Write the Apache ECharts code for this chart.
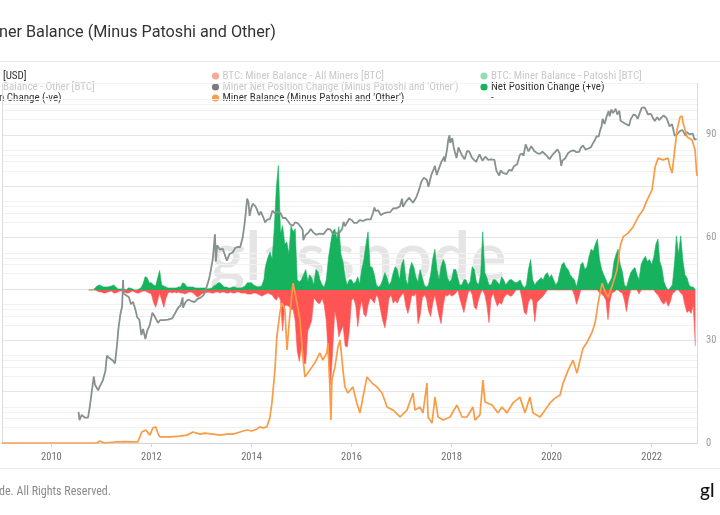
<!DOCTYPE html>
<html><head><meta charset="utf-8">
<script src="https://cdn.jsdelivr.net/npm/echarts@6/dist/echarts.min.js"></script>
<style>html,body{margin:0;padding:0;background:#fff;overflow:hidden}#c{width:720px;height:515px}</style>
</head><body><div id="c"></div>
<script>
// ---------- tick labels ----------
const yearTicks = ['2010-01-01','2012-01-01','2014-01-01','2016-01-01','2018-01-01','2020-01-01','2022-01-01'];
const rightTicks = [0, 30, 60, 90];
const gridMinors = [2, 3, 4, 5];

// ---------- BTC price [USD] (gray, log scale) ----------
const priceDates = ['2010-07-18','2010-07-25','2010-08-10','2010-09-01','2010-09-25','2010-10-08','2010-10-20','2010-11-06','2010-11-15','2010-11-25','2010-12-08','2010-12-20',
'2011-01-10','2011-01-30','2011-02-10','2011-02-25','2011-03-10','2011-03-25','2011-04-10','2011-04-25','2011-05-05','2011-05-20','2011-06-01','2011-06-08','2011-06-12','2011-06-20','2011-07-05','2011-07-20','2011-08-05','2011-08-20','2011-09-05','2011-09-20','2011-10-05','2011-10-20','2011-11-01','2011-11-18','2011-12-01','2011-12-20',
'2012-01-08','2012-01-25','2012-02-18','2012-03-05','2012-04-01','2012-05-01','2012-06-01','2012-06-20','2012-07-15','2012-08-01','2012-08-16','2012-08-19','2012-09-05','2012-09-25','2012-10-20','2012-11-10','2012-12-01','2012-12-25',
'2013-01-15','2013-02-05','2013-02-25','2013-03-10','2013-03-25','2013-04-09','2013-04-16','2013-04-25','2013-05-15','2013-06-05','2013-07-05','2013-07-25','2013-08-15','2013-09-05','2013-09-25','2013-10-10','2013-10-28','2013-11-10','2013-11-20','2013-11-30','2013-12-10','2013-12-18','2013-12-30',
'2014-01-10','2014-01-30','2014-02-10','2014-02-25','2014-03-10','2014-03-28','2014-04-10','2014-04-25','2014-05-15','2014-06-03','2014-06-20','2014-07-10','2014-08-01','2014-08-18','2014-09-05','2014-09-25','2014-10-10','2014-10-30','2014-11-15','2014-12-05','2014-12-30',
'2015-01-10','2015-01-14','2015-02-01','2015-02-20','2015-03-10','2015-03-30','2015-04-20','2015-05-15','2015-06-10','2015-07-10','2015-07-30','2015-08-20','2015-09-10','2015-10-01','2015-10-25','2015-11-04','2015-11-15','2015-12-15',
'2016-01-05','2016-01-20','2016-02-10','2016-03-01','2016-03-25','2016-04-20','2016-05-20','2016-06-05','2016-06-17','2016-06-25','2016-07-15','2016-08-02','2016-08-20','2016-09-15','2016-10-10','2016-11-01','2016-11-25','2016-12-20',
'2017-01-04','2017-01-11','2017-02-01','2017-02-25','2017-03-10','2017-03-25','2017-04-20','2017-05-10','2017-05-25','2017-06-12','2017-07-05','2017-07-16','2017-08-05','2017-08-25','2017-09-01','2017-09-15','2017-10-01','2017-10-20','2017-11-08','2017-11-12','2017-11-28','2017-12-08','2017-12-17','2017-12-22',
'2018-01-06','2018-01-17','2018-01-28','2018-02-06','2018-02-20','2018-03-05','2018-03-18','2018-04-06','2018-04-24','2018-05-10','2018-05-28','2018-06-12','2018-06-29','2018-07-24','2018-08-14','2018-09-04','2018-09-25','2018-10-15','2018-11-10','2018-11-20','2018-11-25','2018-12-15','2018-12-25',
'2019-01-10','2019-02-07','2019-02-24','2019-03-15','2019-04-03','2019-04-25','2019-05-14','2019-05-30','2019-06-10','2019-06-26','2019-07-16','2019-08-06','2019-08-29','2019-09-24','2019-10-10','2019-10-26','2019-11-20','2019-12-17',
'2020-01-08','2020-01-20','2020-02-13','2020-02-28','2020-03-12','2020-03-20','2020-04-10','2020-04-30','2020-05-20','2020-06-10','2020-06-28','2020-07-20','2020-08-02','2020-08-17','2020-09-05','2020-09-25','2020-10-15','2020-10-28','2020-11-10','2020-11-25','2020-12-10','2020-12-20','2020-12-31',
'2021-01-08','2021-01-22','2021-02-08','2021-02-21','2021-02-28','2021-03-13','2021-03-25','2021-04-13','2021-04-25','2021-05-10','2021-05-19','2021-06-01','2021-06-22','2021-07-06','2021-07-20','2021-08-01','2021-08-22','2021-09-07','2021-09-21','2021-10-05','2021-10-20','2021-11-01','2021-11-10','2021-11-25','2021-12-04','2021-12-27',
'2022-01-10','2022-01-24','2022-02-10','2022-02-24','2022-03-29','2022-04-20','2022-05-12','2022-05-30','2022-06-18','2022-07-05','2022-07-30','2022-08-14','2022-09-06','2022-09-12','2022-10-05','2022-10-29','2022-11-09','2022-11-25'];
const priceValues = [0.08,0.055,0.07,0.062,0.062,0.10,0.10,0.39,0.27,0.28,0.21,0.25,
0.32,0.50,1.0,0.90,0.90,0.80,0.70,1.6,3.3,6.5,9.0,29.6,16,17.5,14.5,13.8,10,11,8,5.5,5.0,2.5,3.3,2.1,3.0,3.9,
6.8,5.8,4.3,4.9,4.9,5.0,5.3,6.5,8.6,9.4,13.5,8.5,10.8,12.3,11.4,10.9,12.5,13.4,
14.8,20.5,31,46,78,230,68,140,115,120,70,95,100,125,130,128,195,340,600,1130,950,520,740,
900,800,690,540,630,490,390,440,450,660,590,625,590,470,480,410,360,335,390,375,310,
275,175,225,245,290,245,225,235,230,290,285,230,240,238,290,400,330,460,
430,380,380,430,415,445,445,580,760,650,665,540,580,610,620,730,735,800,
1130,780,980,1180,1190,940,1230,1750,2400,2900,2600,1930,3200,4350,4900,3250,4400,6000,7400,5900,9900,16000,19300,13800,
17100,11100,11800,6950,11200,11500,7900,6600,9600,9300,7200,6500,5900,8200,6200,7400,6400,6600,6400,4500,3900,3200,4000,
3600,3400,4100,3950,4900,5300,8000,8600,7700,12900,9400,11800,9500,8500,8500,9250,8100,6640,
8050,8700,10300,8700,4900,6200,6900,8650,9500,9850,9100,9200,11100,12250,10200,10700,11400,13300,15300,18700,18200,23800,29000,
40500,32000,46400,57500,45200,61200,52300,63500,49000,58000,37000,36700,32500,34000,29800,39900,49300,46800,40700,51500,66000,61300,67500,57100,49400,50700,
41900,36700,43600,38300,47400,41500,28900,31800,19000,20200,23800,24300,18800,22300,20300,20800,15900,16500];

// ---------- Miner Balance (Minus Patoshi and 'Other') (orange, right axis) ----------
const balanceDates = ['2009-01-05','2010-11-29','2010-12-21','2011-01-20','2011-04-09','2011-06-21','2011-09-24','2011-10-23','2011-11-22','2011-12-21',
'2012-01-11','2012-02-02','2012-02-17','2012-03-03','2012-05-15','2012-07-27','2012-09-17','2012-10-31','2012-12-21',
'2013-01-26','2013-03-25','2013-05-15','2013-07-05','2013-08-18','2013-10-09','2013-11-29',
'2014-01-04','2014-02-09','2014-03-03','2014-03-25','2014-04-23','2014-05-01','2014-05-15','2014-05-30','2014-06-21','2014-07-05','2014-07-27','2014-08-11','2014-09-02','2014-09-17','2014-10-09','2014-10-31','2014-11-14','2014-11-29','2014-12-21',
'2015-01-11','2015-01-26','2015-03-03','2015-04-09','2015-05-15','2015-06-06','2015-07-05','2015-07-13','2015-07-27','2015-08-04','2015-08-11','2015-09-02','2015-09-24','2015-10-09','2015-10-31','2015-11-14','2015-12-06',
'2016-01-11','2016-02-09','2016-03-03','2016-03-25','2016-04-23','2016-05-30','2016-07-05','2016-08-11','2016-09-17','2016-10-31','2016-12-21',
'2017-02-09','2017-03-25','2017-04-09','2017-05-15','2017-06-06','2017-07-05','2017-07-13','2017-08-11','2017-09-02','2017-09-24','2017-10-31','2017-12-21',
'2018-02-09','2018-03-18','2018-04-23','2018-06-06','2018-06-21','2018-07-27','2018-08-18','2018-09-02','2018-10-23','2018-12-06',
'2019-01-04','2019-02-09','2019-03-25','2019-05-15','2019-06-21','2019-07-27','2019-08-18','2019-10-09','2019-11-14','2019-12-21',
'2020-01-26','2020-03-03','2020-03-25','2020-05-01','2020-06-06','2020-07-05','2020-07-27','2020-08-18','2020-09-17','2020-10-23','2020-11-14','2020-12-06',
'2021-01-04','2021-01-26','2021-02-17','2021-03-25','2021-04-23','2021-05-15','2021-06-06','2021-07-13','2021-08-18','2021-09-24','2021-10-31','2021-11-29',
'2022-01-04','2022-01-26','2022-02-17','2022-03-25','2022-05-01','2022-05-15','2022-05-30','2022-06-21','2022-07-05','2022-07-27','2022-08-11','2022-08-18','2022-09-17','2022-10-23','2022-11-14','2022-11-24','2022-11-28'];
const balanceValues = [0,0,0.6,0,0.3,0.4,0.3,3.2,3.8,2.3,
4.4,4.7,2.9,1.8,1.8,2.0,2.3,3.2,2.6,
2.9,2.6,2.3,2.6,2.6,3.2,3.8,
3.5,4.1,4.7,4.4,4.7,5.8,7.3,11.7,21.3,31,38,40.9,38.8,27.2,38,46.7,47,40.9,35.9,
25.1,19.3,21.3,23.4,26.3,24.2,26.3,29.2,16.4,6.7,18.4,22.2,28,30.1,21.3,16.4,14.6,
16.4,11.7,8.8,13.4,19.3,17.5,16.4,14.6,10.5,9.6,7.6,
9.6,14.6,9.6,10.5,8.8,17.5,7.6,5.8,13.4,7.6,6.7,7.6,
11.1,7.6,7.6,10.5,6.7,8.2,18.4,12,11.1,8.8,
10.5,8.8,11.7,13.4,8.8,13.4,8.8,7.6,9.6,11.7,
13.1,14,17.5,21.3,24.2,20.4,24.2,27.7,29.5,32.4,35.1,40.9,
46.7,44.1,42.6,46.7,50.5,57.3,60.2,61.3,63.1,66,68.1,71,
73.9,80.6,83.2,82.7,83.2,80.6,78.9,86.5,91.4,95.2,95.5,93.5,89.4,88.5,85.6,79.7,78];

// ---------- Net position change, half-monthly from 2010-10-01 ----------
const halfMonthStart = [2010, 10];
const posChange = [
0,0,0,2,4,5,
4,3,3,3,2,4,5,3,1,1,1,1,0,2,2,1,0,0,1,2,6,13,12,7,
7,5,4,12,19,5,4,3,2,2,2,2,2,3,3,7,6,3,3,3,3,2,2,2,
2,2,2,1,2,2,4,5,7,7,5,3,3,2,2,3,3,2,2,2,3,4,7,7,
7,5,4,3,3,4,10,25,32,37,30,60,100,122,55,63,45,47,35,63,57,60,10,8,
10,15,20,8,15,12,5,20,18,10,5,3,10,30,45,57,60,50,62,35,27,12,5,10,
10,6,8,13,6,20,30,45,57,23,22,15,5,3,5,10,17,12,5,8,17,23,20,10,
25,30,10,5,20,27,22,12,8,20,12,5,3,5,15,30,40,20,10,23,30,25,12,8,
10,20,20,12,5,5,10,10,5,8,23,20,8,5,15,57,17,12,5,5,10,10,8,5,
13,10,5,8,10,10,8,7,8,10,5,2,5,20,30,10,5,8,10,12,10,15,17,12,
15,10,5,8,17,25,27,22,20,15,12,10,3,12,25,27,20,23,33,40,38,45,50,30,
20,15,10,5,5,12,28,35,40,25,18,5,3,10,17,20,22,15,10,25,30,33,28,30,
25,32,45,50,28,22,8,3,0,2,5,25,53,35,53,30,15,12,5,3,3,0];
const negChange = [
0,0,0,0,-1,-2,
-2,-3,-3,-2,-2,-1,-3,-3,-2,-1,-1,-2,-3,-3,-2,-1,-2,-3,-3,-2,-1,-1,-2,-3,
-4,-12,-17,-10,-3,-10,-17,-8,-3,-2,-3,-2,-3,-2,-3,-3,-4,-3,-2,-2,-3,-5,-7,-6,
-4,-3,-3,-2,-2,-3,-3,-2,-2,-3,-2,-2,-3,-3,-2,-3,-3,-2,-2,-3,-3,-3,-4,-4,
-4,-3,-3,-4,-5,-6,-5,-4,-3,-4,-5,-8,-10,-6,-10,-40,-15,-15,-16,-19,-19,-30,-60,-70,
-55,-72,-72,-40,-36,-30,-8,-10,-13,-13,-8,-15,-30,-66,-93,-60,-20,-30,-46,-40,-35,-55,-56,-40,
-10,-8,-15,-36,-20,-10,-24,-26,-15,-8,-10,-13,-5,-8,-20,-30,-37,-25,-8,-5,-13,-10,-13,-8,
-5,-3,-16,-23,-16,-5,-6,-3,-33,-25,-8,-5,-8,-20,-26,-13,-5,-15,-25,-33,-15,-5,-6,-4,
-6,-5,-3,0,-8,-15,-22,-12,-3,0,-5,-17,-19,-10,-3,0,-5,-15,-32,-8,-3,-10,-16,-12,
-14,-8,-5,-4,-6,-6,-3,0,0,0,-10,-22,-24,-12,-8,-10,-31,-12,-10,-8,-6,-3,0,0,
0,0,0,0,0,0,0,0,0,0,0,-5,-14,-8,0,0,0,0,0,0,0,0,0,-3,
-4,-6,-10,-29,-12,-3,-2,0,0,-2,-3,-10,-21,-8,0,0,0,0,-4,0,0,0,0,0,
0,0,-3,-5,-8,-12,-14,-10,-16,-12,-4,-2,0,0,-3,-5,-15,-22,-20,-23,-15,-55];

// ---------- build series tables ----------
const toTime = s => new Date(s + 'T00:00:00Z').getTime();
const halfMonthDates = posChange.map((_, i) => {
  const m = halfMonthStart[1] - 1 + Math.floor(i / 2);
  const y = halfMonthStart[0] + Math.floor(m / 12);
  return y + '-' + String(m % 12 + 1).padStart(2, '0') + '-' + (i % 2 ? '16' : '01');
});
const pair = (d, v) => d.map((x, i) => [toTime(x), v[i]]);
const yearTickTimes = yearTicks.map(toTime);

const NARROW = "'Liberation Sans Narrow','Roboto Condensed','Arial Narrow','DejaVu Sans Condensed',Roboto,sans-serif";
const chart = echarts.init(document.getElementById('c'), null, { renderer: 'canvas' });

const faded = '#c9c9c9', dark = '#333';
const legendRows = [76, 87, 98];
function lgText(x, y, text, fill) {
  return { type: 'text', x: x, y: y, silent: true, style: { text: text, fill: fill, font: '11px ' + NARROW, verticalAlign: 'middle' } };
}
function lgDot(x, y, color) {
  return { type: 'circle', shape: { cx: x, cy: y, r: 3.6 }, silent: true, style: { fill: color } };
}

const yAxes = [
  { type: 'log', logBase: 10, min: 1, max: 1e7, position: 'left',
    axisLine: { show: true, lineStyle: { color: '#dcdcdc' } }, axisTick: { show: false }, axisLabel: { show: false },
    splitLine: { show: true, lineStyle: { color: '#e4e4e4', width: 1 } } }
];
gridMinors.forEach(m => yAxes.push({
  type: 'log', logBase: 10, min: 1 / m, max: 1e7 / m, position: 'left',
  axisLine: { show: false }, axisTick: { show: false }, axisLabel: { show: false },
  splitLine: { show: true, lineStyle: { color: '#f1f1f1', width: 1 } }
}));
const priceAxis = yAxes.length;
yAxes.push({ type: 'log', logBase: 10, min: 0.0198, max: 197000, show: false });
const balanceAxis = yAxes.length;
yAxes.push({ type: 'value', min: 0, max: 105, interval: 30, position: 'right',
  axisLine: { show: true, lineStyle: { color: '#fcd4ae', width: 1 } }, axisTick: { show: false },
  axisLabel: { color: '#9a9a9a', fontSize: 10.5, margin: 9, showMaxLabel: false, fontFamily: NARROW,
    formatter: v => rightTicks.indexOf(v) >= 0 ? String(v) : '' },
  splitLine: { show: false } });
const changeAxis = yAxes.length;
yAxes.push({ type: 'value', min: -150, max: 202.4, show: false });

chart.setOption({
  animation: false,
  backgroundColor: '#fff',
  grid: { left: 2, right: 23, top: 83.5, bottom: 72, containLabel: false, outerBoundsMode: 'none' },
  xAxis: {
    type: 'value', min: toTime('2009-01-05'), max: toTime('2022-11-28'),
    axisLine: { show: true, lineStyle: { color: '#d4d4d4' } },
    axisTick: { show: true, customValues: yearTickTimes, length: 4, lineStyle: { color: '#d4d4d4' } },
    axisLabel: { customValues: yearTickTimes, color: '#6f6f6f', fontSize: 10.5, margin: 9, fontFamily: NARROW,
      formatter: v => String(new Date(v).getUTCFullYear()) },
    splitLine: { show: false }
  },
  yAxis: yAxes,
  series: [
    { name: 'Net Position Change (+ve)', type: 'line', yAxisIndex: changeAxis, data: pair(halfMonthDates, posChange),
      showSymbol: false, silent: true, z: 2, lineStyle: { width: 0.6, color: '#17b25e' },
      areaStyle: { color: '#17b25e', opacity: 1 } },
    { name: 'Net Position Change (-ve)', type: 'line', yAxisIndex: changeAxis, data: pair(halfMonthDates, negChange),
      showSymbol: false, silent: true, z: 2, lineStyle: { width: 0.6, color: '#ff5454' },
      areaStyle: { color: '#ff5454', opacity: 1 } },
    { name: 'BTC: Price [USD]', type: 'line', yAxisIndex: priceAxis, data: pair(priceDates, priceValues),
      showSymbol: false, silent: true, z: 3, lineStyle: { width: 1.8, color: '#87918f' } },
    { name: "Miner Balance (Minus Patoshi and 'Other')", type: 'line', yAxisIndex: balanceAxis, data: pair(balanceDates, balanceValues),
      showSymbol: false, silent: true, z: 4, lineStyle: { width: 1.7, color: '#fa9b45' } }
  ],
  graphic: [
    { type: 'text', x: 358, y: 258, z: -1, silent: true,
      style: { text: 'glassnode', fill: 'rgba(0,0,0,0.1)', font: '600 68px Lato, sans-serif', align: 'center', verticalAlign: 'middle' } },
    { type: 'text', x: -1, y: 33, silent: true,
      style: { text: 'ner Balance (Minus Patoshi and Other)', fill: '#333', font: '16.2px Roboto, sans-serif', verticalAlign: 'middle' } },
    { type: 'line', silent: true, shape: { x1: 0, y1: 61.5, x2: 720, y2: 61.5 }, style: { stroke: '#e8e8e8', lineWidth: 1 } },
    { type: 'line', silent: true, shape: { x1: 0, y1: 468.5, x2: 720, y2: 468.5 }, style: { stroke: '#e8e8e8', lineWidth: 1 } },
    lgText(3, legendRows[0], '[USD]', dark),
    lgDot(215.5, legendRows[0], 'rgba(242,100,70,0.55)'),
    lgText(222.5, legendRows[0], 'BTC: Miner Balance - All Miners [BTC]', faded),
    lgDot(484, legendRows[0], 'rgba(20,176,92,0.45)'),
    lgText(491, legendRows[0], 'BTC: Miner Balance - Patoshi [BTC]', faded),
    lgText(3, legendRows[1], 'Balance - Other [BTC]', faded),
    lgDot(215.5, legendRows[1], 'rgba(90,90,90,0.8)'),
    lgText(222.5, legendRows[1], "Miner Net Position Change (Minus Patoshi and 'Other')", faded),
    lgDot(484, legendRows[1], '#17b25e'),
    lgText(491, legendRows[1], 'Net Position Change (+ve)', dark),
    lgText(-1, legendRows[2], 'n Change (-ve)', dark),
    lgDot(215.5, legendRows[2], '#fa9b45'),
    lgText(222.5, legendRows[2], "Miner Balance (Minus Patoshi and 'Other')", dark),
    lgText(491, legendRows[2], '-', dark),
    { type: 'text', x: -1, y: 492, silent: true,
      style: { text: 'de. All Rights Reserved.', fill: '#8a8a8a', font: '12px ' + NARROW, verticalAlign: 'middle' } },
    { type: 'text', x: 700, y: 491, silent: true,
      style: { text: 'gl', fill: '#111', font: '500 19px Lato, sans-serif', verticalAlign: 'middle' } }
  ]
});
</script></body></html>
